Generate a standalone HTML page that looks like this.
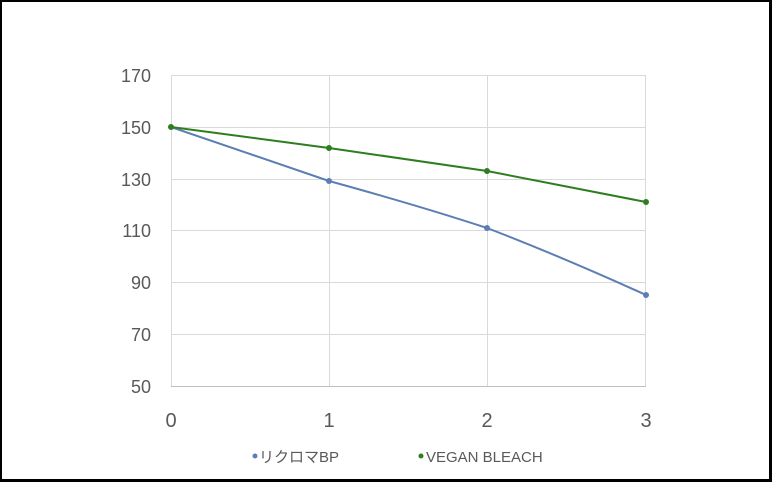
<!DOCTYPE html>
<html><head><meta charset="utf-8"><style>
html,body{margin:0;padding:0;background:#fff}
svg{display:block}
</style></head><body>
<svg width="772" height="482" viewBox="0 0 772 482" xmlns="http://www.w3.org/2000/svg">
<rect x="0" y="0" width="772" height="482" fill="#000"/>
<rect x="2" y="2" width="767" height="477" fill="#fff"/>
<g stroke="#d9d9d9" stroke-width="1">
<line x1="171" y1="75.5" x2="646" y2="75.5"/>
<line x1="171" y1="127.5" x2="646" y2="127.5"/>
<line x1="171" y1="179.5" x2="646" y2="179.5"/>
<line x1="171" y1="230.5" x2="646" y2="230.5"/>
<line x1="171" y1="282.5" x2="646" y2="282.5"/>
<line x1="171" y1="334.5" x2="646" y2="334.5"/>
<line x1="171.5" y1="75" x2="171.5" y2="386"/>
<line x1="329.5" y1="75" x2="329.5" y2="386"/>
<line x1="487.5" y1="75" x2="487.5" y2="386"/>
<line x1="645.5" y1="75" x2="645.5" y2="386"/>
</g>
<line x1="171" y1="386.5" x2="646" y2="386.5" stroke="#bfbfbf"/>
<g font-family="Liberation Sans, sans-serif" fill="#595959" font-size="18" text-anchor="end">
<text x="151" y="82">170</text>
<text x="151" y="134">150</text>
<text x="151" y="186">130</text>
<text x="151" y="237">110</text>
<text x="151" y="289">90</text>
<text x="151" y="341">70</text>
<text x="151" y="393">50</text>
</g>
<g font-family="Liberation Sans, sans-serif" fill="#595959" font-size="20" text-anchor="middle">
<text x="171" y="427">0</text>
<text x="329" y="427">1</text>
<text x="487" y="427">2</text>
<text x="646" y="427">3</text>
</g>
<path d="M171,127 L329,181 Q420,206 487,228 Q560,256 646,295" fill="none" stroke="#5b7fb4" stroke-width="2"/>
<polyline points="171,127 329,148 487,171 646,202" fill="none" stroke="#2e7d1e" stroke-width="2"/>
<g fill="#5b7fb4"><circle cx="329" cy="181" r="3"/><circle cx="487" cy="228" r="3"/><circle cx="646" cy="295" r="3"/></g>
<g fill="#2e7d1e"><circle cx="171" cy="127" r="3"/><circle cx="329" cy="148" r="3"/><circle cx="487" cy="171" r="3"/><circle cx="646" cy="202" r="3"/></g>
<circle cx="255" cy="456" r="2.5" fill="#5b7fb4"/>
<circle cx="421" cy="456" r="2.5" fill="#2e7d1e"/>
<g font-family="Liberation Sans, 'Noto Sans CJK JP', sans-serif" fill="#595959" font-size="15">
<text x="259" y="462">リクロマBP</text>
<text x="426" y="462">VEGAN BLEACH</text>
</g>
</svg>
</body></html>
